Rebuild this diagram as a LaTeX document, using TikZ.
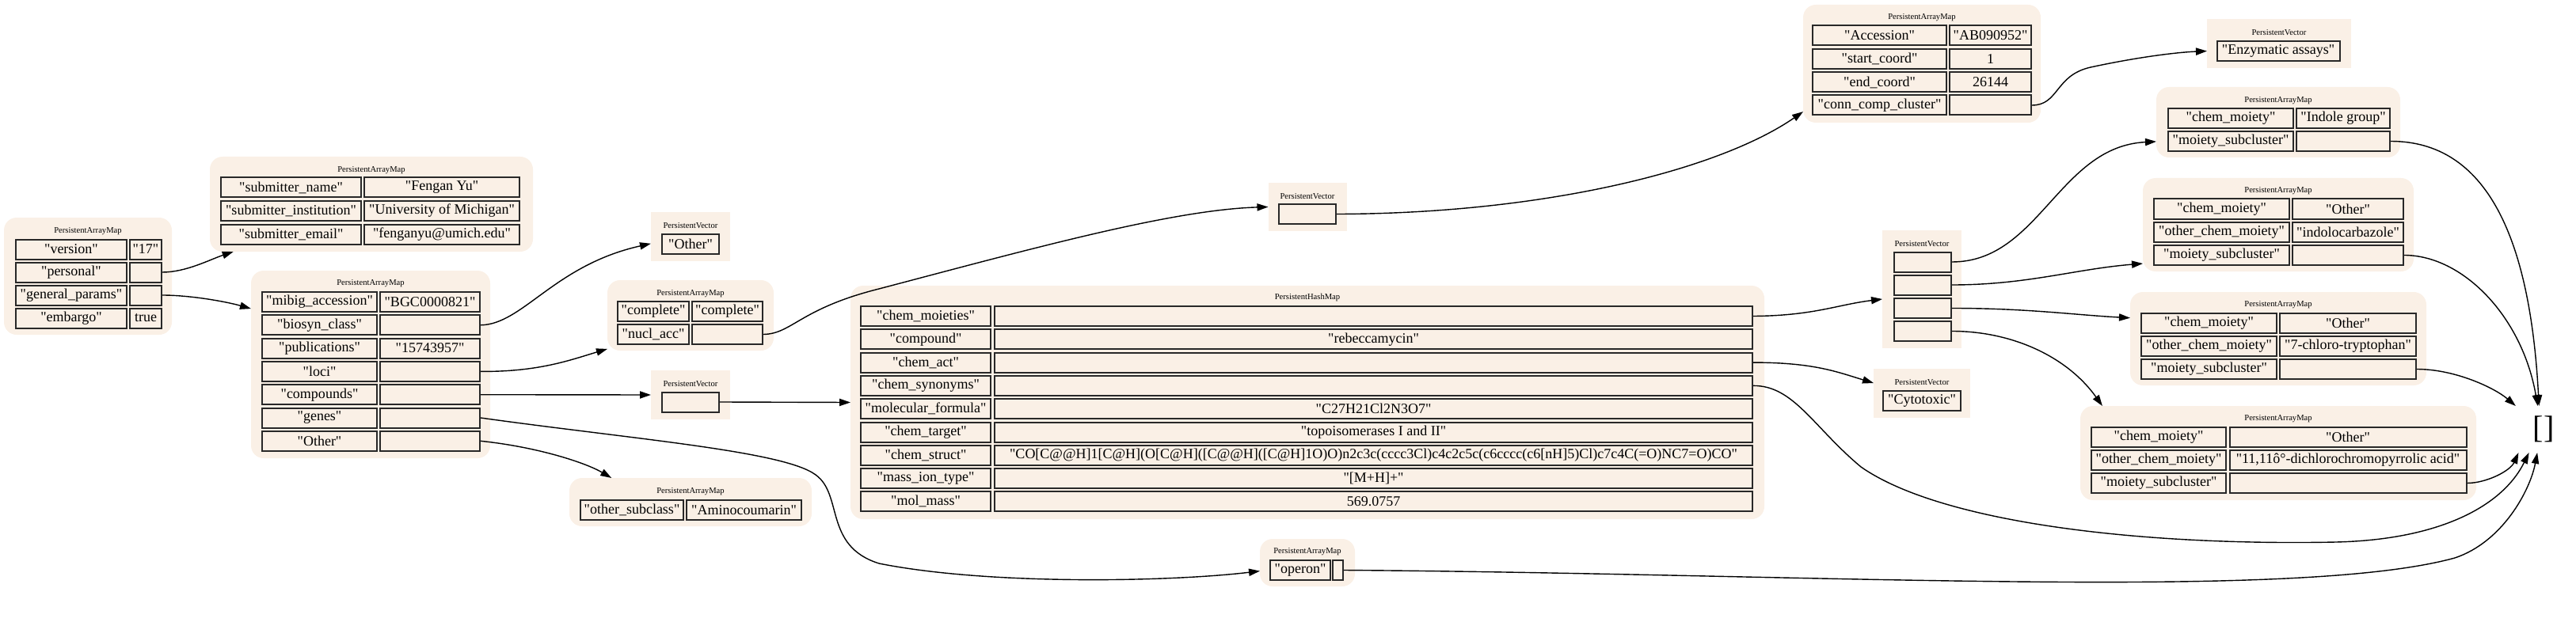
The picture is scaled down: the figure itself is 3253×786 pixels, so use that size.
\documentclass[tikz,border=0pt]{standalone}
\usepackage{fontspec}
\setmainfont{Liberation Serif}[Ligatures=TeXOff]
\usepackage{tikz}
\usetikzlibrary{arrows.meta}
\definecolor{pamfill}{RGB}{250,240,230}
\definecolor{pamline}{RGB}{40,40,40}
\newcommand\pamcellfont{\fontsize{9pt}{11pt}\selectfont}
\newcommand\pamtitlefont{\fontsize{5.3pt}{6pt}\selectfont}
\newcommand\pambigfont{\fontsize{20pt}{22pt}\selectfont}

\begin{document}
\begin{tikzpicture}[x=0.5pt,y=0.5pt,yscale=-1,
  mapbox/.style={fill=pamfill, rounded corners=8pt, inner sep=0pt, outer sep=0pt},
  vecbox/.style={fill=pamfill, inner sep=0pt, outer sep=0pt},
  cellbox/.style={draw=pamline, line width=1pt, fill=pamfill, inner sep=0pt, minimum height=12.5pt, font=\pamcellfont},
  boxtitle/.style={inner sep=0pt, font=\pamtitlefont},
  arrowline/.style={line width=0.7pt, -{Triangle[length=7pt,width=4.6pt]}}]
  \useasboundingbox (0,0) rectangle (3253,786);

  %Shape: Rounded Rectangle [root map]
  \node[mapbox, minimum width=106pt, minimum height=74pt] (rootmap) at (111,349) {};
  \draw (111,292) node[boxtitle] {PersistentArrayMap};
  \node[cellbox, minimum width=70pt] (root-version-k) at (90,315) {"version"};
  \node[cellbox, minimum width=20pt] (root-version) at (184,315) {"17"};
  \node[cellbox, minimum width=70pt] (root-personal-k) at (90,344) {"personal"};
  \node[cellbox, minimum width=20pt] (root-personal) at (184,344) {};
  \node[cellbox, minimum width=70pt] (root-general-k) at (90,373) {"general\_params"};
  \node[cellbox, minimum width=20pt] (root-general) at (184,373) {};
  \node[cellbox, minimum width=70pt] (root-embargo-k) at (90,402) {"embargo"};
  \node[cellbox, minimum width=20pt] (root-embargo) at (184,402) {true};

  %Shape: Rounded Rectangle [personal]
  \node[mapbox, minimum width=204pt, minimum height=60pt] (personalmap) at (469,258) {};
  \draw (469,215) node[boxtitle] {PersistentArrayMap};
  \node[cellbox, minimum width=88.5pt] (pers-name-k) at (367.5,237) {"submitter\_name"};
  \node[cellbox, minimum width=98pt] (pers-name) at (558,237) {"Fengan Yu"};
  \node[cellbox, minimum width=88.5pt] (pers-inst-k) at (367.5,266.5) {"submitter\_institution"};
  \node[cellbox, minimum width=98pt] (pers-inst) at (558,266.5) {"University of Michigan"};
  \node[cellbox, minimum width=88.5pt] (pers-email-k) at (367.5,296) {"submitter\_email"};
  \node[cellbox, minimum width=98pt] (pers-email) at (558,296) {"fenganyu@umich.edu"};

  %Shape: Rounded Rectangle [general params]
  \node[mapbox, minimum width=151pt, minimum height=118.5pt] (genmap) at (468,460.5) {};
  \draw (468,358) node[boxtitle] {PersistentArrayMap};
  \node[cellbox, minimum width=72.5pt] (gen-mibig-k) at (403.5,381.5) {"mibig\_accession"};
  \node[cellbox, minimum width=63pt] (gen-mibig) at (543,381.5) {"BGC0000821"};
  \node[cellbox, minimum width=72.5pt] (gen-biosyn-k) at (403.5,410.8) {"biosyn\_class"};
  \node[cellbox, minimum width=63pt] (gen-biosyn) at (543,410.8) {};
  \node[cellbox, minimum width=72.5pt] (gen-pub-k) at (403.5,440.1) {"publications"};
  \node[cellbox, minimum width=63pt] (gen-pub) at (543,440.1) {"15743957"};
  \node[cellbox, minimum width=72.5pt] (gen-loci-k) at (403.5,469.4) {"loci"};
  \node[cellbox, minimum width=63pt] (gen-loci) at (543,469.4) {};
  \node[cellbox, minimum width=72.5pt] (gen-compounds-k) at (403.5,498.7) {"compounds"};
  \node[cellbox, minimum width=63pt] (gen-compounds) at (543,498.7) {};
  \node[cellbox, minimum width=72.5pt] (gen-genes-k) at (403.5,528) {"genes"};
  \node[cellbox, minimum width=63pt] (gen-genes) at (543,528) {};
  \node[cellbox, minimum width=72.5pt] (gen-other-k) at (403.5,557.3) {"Other"};
  \node[cellbox, minimum width=63pt] (gen-other) at (543,557.3) {};

  %Shape: Rectangle [biosyn class vector]
  \node[vecbox, minimum width=50pt, minimum height=31pt] (classvec) at (872,299) {};
  \draw (872,285) node[boxtitle] {PersistentVector};
  \node[cellbox, minimum width=36pt] (classvec-a) at (872,308) {"Other"};

  %Shape: Rounded Rectangle [loci]
  \node[mapbox, minimum width=105pt, minimum height=44.5pt] (locimap) at (872,398.5) {};
  \draw (872,371) node[boxtitle] {PersistentArrayMap};
  \node[cellbox, minimum width=45pt] (loci-compl-k) at (825,393.5) {"complete"};
  \node[cellbox, minimum width=44.5pt] (loci-compl) at (918.5,393.5) {"complete"};
  \node[cellbox, minimum width=45pt] (loci-nucl-k) at (825,422.5) {"nucl\_acc"};
  \node[cellbox, minimum width=44.5pt] (loci-nucl) at (918.5,422.5) {};

  %Shape: Rectangle [compounds vector]
  \node[vecbox, minimum width=50pt, minimum height=31pt] (cmpvec) at (872,499) {};
  \draw (872,485) node[boxtitle] {PersistentVector};
  \node[cellbox, minimum width=36pt] (cmpvec-a) at (872,508) {};

  %Shape: Rounded Rectangle [other]
  \node[mapbox, minimum width=153pt, minimum height=30.5pt] (subclassmap) at (872,634.5) {};
  \draw (872,621) node[boxtitle] {PersistentArrayMap};
  \node[cellbox, minimum width=65pt] (sub-k) at (798,644.5) {"other\_subclass"};
  \node[cellbox, minimum width=72.5pt] (sub-v) at (939.5,644.5) {"Aminocoumarin"};

  %Shape: Rounded Rectangle [compound hash map]
  \node[mapbox, minimum width=577pt, minimum height=147.5pt] (hashmap) at (1651,508.5) {};
  \draw (1651,376) node[boxtitle] {PersistentHashMap};
  \node[cellbox, minimum width=82pt] (hm-moieties-k) at (1169,399.5) {"chem\_moieties"};
  \node[cellbox, minimum width=478.5pt] (hm-moieties) at (1734.5,399.5) {};
  \node[cellbox, minimum width=82pt] (hm-compound-k) at (1169,428.8) {"compound"};
  \node[cellbox, minimum width=478.5pt] (hm-compound) at (1734.5,428.8) {"rebeccamycin"};
  \node[cellbox, minimum width=82pt] (hm-act-k) at (1169,458.1) {"chem\_act"};
  \node[cellbox, minimum width=478.5pt] (hm-act) at (1734.5,458.1) {};
  \node[cellbox, minimum width=82pt] (hm-synonyms-k) at (1169,487.4) {"chem\_synonyms"};
  \node[cellbox, minimum width=478.5pt] (hm-synonyms) at (1734.5,487.4) {};
  \node[cellbox, minimum width=82pt] (hm-formula-k) at (1169,516.7) {"molecular\_formula"};
  \node[cellbox, minimum width=478.5pt] (hm-formula) at (1734.5,516.7) {"C27H21Cl2N3O7"};
  \node[cellbox, minimum width=82pt] (hm-target-k) at (1169,546) {"chem\_target"};
  \node[cellbox, minimum width=478.5pt] (hm-target) at (1734.5,546) {"topoisomerases I and II"};
  \node[cellbox, minimum width=82pt] (hm-struct-k) at (1169,575.3) {"chem\_struct"};
  \node[cellbox, minimum width=478.5pt] (hm-struct) at (1734.5,575.3) {"CO[C@@H]1[C@H](O[C@H]([C@@H]([C@H]1O)O)n2c3c(cccc3Cl)c4c2c5c(c6cccc(c6[nH]5)Cl)c7c4C(=O)NC7=O)CO"};
  \node[cellbox, minimum width=82pt] (hm-ion-k) at (1169,604.6) {"mass\_ion\_type"};
  \node[cellbox, minimum width=478.5pt] (hm-ion) at (1734.5,604.6) {"[M+H]+"};
  \node[cellbox, minimum width=82pt] (hm-mass-k) at (1169,633.9) {"mol\_mass"};
  \node[cellbox, minimum width=478.5pt] (hm-mass) at (1734.5,633.9) {569.0757};

  %Shape: Rectangle [nucl acc vector]
  \node[vecbox, minimum width=49.5pt, minimum height=30.5pt] (nuclvec) at (1651,261.5) {};
  \draw (1651,248) node[boxtitle] {PersistentVector};
  \node[cellbox, minimum width=36pt] (nuclvec-a) at (1651,270.5) {};

  %Shape: Rounded Rectangle [operon]
  \node[mapbox, minimum width=60pt, minimum height=30pt] (operonmap) at (1651,711) {};
  \draw (1651,697) node[boxtitle] {PersistentArrayMap};
  \node[cellbox, minimum width=38pt] (operon-k) at (1642,720.5) {"operon"};
  \node[cellbox, minimum width=6.5pt] (operon-v) at (1689.5,720.5) {};

  %Shape: Rounded Rectangle [accession]
  \node[mapbox, minimum width=150pt, minimum height=74.5pt] (accmap) at (2427,80.5) {};
  \draw (2427,22) node[boxtitle] {PersistentArrayMap};
  \node[cellbox, minimum width=84.5pt] (acc-acc-k) at (2373.5,45) {"Accession"};
  \node[cellbox, minimum width=51.5pt] (acc-acc) at (2513.5,45) {"AB090952"};
  \node[cellbox, minimum width=84.5pt] (acc-start-k) at (2373.5,74.5) {"start\_coord"};
  \node[cellbox, minimum width=51.5pt] (acc-start) at (2513.5,74.5) {1};
  \node[cellbox, minimum width=84.5pt] (acc-end-k) at (2373.5,104) {"end\_coord"};
  \node[cellbox, minimum width=51.5pt] (acc-end) at (2513.5,104) {26144};
  \node[cellbox, minimum width=84.5pt] (acc-conn-k) at (2373.5,133) {"conn\_comp\_cluster"};
  \node[cellbox, minimum width=51.5pt] (acc-conn) at (2513.5,133) {};

  %Shape: Rectangle [moieties vector]
  \node[vecbox, minimum width=50pt, minimum height=74.5pt] (moietyvec) at (2427,365.5) {};
  \draw (2427,308) node[boxtitle] {PersistentVector};
  \node[cellbox, minimum width=36pt] (moiv-a) at (2428,331) {};
  \node[cellbox, minimum width=36pt] (moiv-b) at (2428,360) {};
  \node[cellbox, minimum width=36pt] (moiv-c) at (2428,389.5) {};
  \node[cellbox, minimum width=36pt] (moiv-d) at (2428,418.5) {};

  %Shape: Rectangle [activity vector]
  \node[vecbox, minimum width=61pt, minimum height=31pt] (cytovec) at (2427,497) {};
  \draw (2427,483) node[boxtitle] {PersistentVector};
  \node[cellbox, minimum width=49pt] (cytovec-a) at (2427,506) {"Cytotoxic"};

  %Shape: Rectangle [evidence vector]
  \node[vecbox, minimum width=91pt, minimum height=31pt] (enzvec) at (2878,55) {};
  \draw (2878,41) node[boxtitle] {PersistentVector};
  \node[cellbox, minimum width=77.5pt] (enzvec-a) at (2877,64.5) {"Enzymatic assays"};

  %Shape: Rounded Rectangle [moiety 1]
  \node[mapbox, minimum width=154pt, minimum height=44.5pt] (indolemap) at (2877,154.5) {};
  \draw (2877,127) node[boxtitle] {PersistentArrayMap};
  \node[cellbox, minimum width=79pt] (ind-moiety-k) at (2817,149.5) {"chem\_moiety"};
  \node[cellbox, minimum width=59pt] (ind-moiety) at (2959,149.5) {"Indole group"};
  \node[cellbox, minimum width=79pt] (ind-sub-k) at (2817,178.5) {"moiety\_subcluster"};
  \node[cellbox, minimum width=59pt] (ind-sub) at (2959,178.5) {};

  %Shape: Rounded Rectangle [moiety 2]
  \node[mapbox, minimum width=171pt, minimum height=59pt] (carbmap) at (2877,284) {};
  \draw (2877,241) node[boxtitle] {PersistentArrayMap};
  \node[cellbox, minimum width=85.5pt] (carb-moiety-k) at (2805.5,264) {"chem\_moiety"};
  \node[cellbox, minimum width=70pt] (carb-moiety) at (2965,264) {"Other"};
  \node[cellbox, minimum width=85.5pt] (carb-other-k) at (2805.5,293.5) {"other\_chem\_moiety"};
  \node[cellbox, minimum width=70pt] (carb-other) at (2965,293.5) {"indolocarbazole"};
  \node[cellbox, minimum width=85.5pt] (carb-sub-k) at (2805.5,322.5) {"moiety\_subcluster"};
  \node[cellbox, minimum width=70pt] (carb-sub) at (2965,322.5) {};

  %Shape: Rounded Rectangle [moiety 3]
  \node[mapbox, minimum width=187pt, minimum height=59pt] (chloromap) at (2877,428) {};
  \draw (2877,385) node[boxtitle] {PersistentArrayMap};
  \node[cellbox, minimum width=85.5pt] (chl-moiety-k) at (2789.5,408.5) {"chem\_moiety"};
  \node[cellbox, minimum width=86pt] (chl-moiety) at (2965,408.5) {"Other"};
  \node[cellbox, minimum width=85.5pt] (chl-other-k) at (2789.5,437.5) {"other\_chem\_moiety"};
  \node[cellbox, minimum width=86pt] (chl-other) at (2965,437.5) {"7-chloro-tryptophan"};
  \node[cellbox, minimum width=85.5pt] (chl-sub-k) at (2789.5,466.5) {"moiety\_subcluster"};
  \node[cellbox, minimum width=86pt] (chl-sub) at (2965,466.5) {};

  %Shape: Rounded Rectangle [moiety 4]
  \node[mapbox, minimum width=250pt, minimum height=59.5pt] (dichlmap) at (2877,572.5) {};
  \draw (2877,529) node[boxtitle] {PersistentArrayMap};
  \node[cellbox, minimum width=85pt] (dch-moiety-k) at (2726,552) {"chem\_moiety"};
  \node[cellbox, minimum width=149.5pt] (dch-moiety) at (2965,552) {"Other"};
  \node[cellbox, minimum width=85pt] (dch-other-k) at (2726,581.5) {"other\_chem\_moiety"};
  \node[cellbox, minimum width=149.5pt] (dch-other) at (2965,581.5) {"11,11ô°-dichlorochromopyrrolic acid"};
  \node[cellbox, minimum width=85pt] (dch-sub-k) at (2726,610.5) {"moiety\_subcluster"};
  \node[cellbox, minimum width=149.5pt] (dch-sub) at (2965,610.5) {};

  % Text Node [empty list]
  \node[inner sep=0pt, outer sep=0pt, minimum width=36pt, minimum height=29.5pt, font=\pambigfont] (emptylist) at (3212,542.5) {[]};

  %Straight Lines
  \draw[arrowline] (root-personal.east) .. controls (235,344) and (265,328) .. (personalmap.199);
  \draw[arrowline] (root-general.east) .. controls (240,373) and (285,381) .. (genmap.155);
  \draw[arrowline] (gen-biosyn.east) .. controls (660,410) and (700,335) .. (classvec.190);
  \draw[arrowline] (gen-loci.east) .. controls (680,470) and (720,455) .. (locimap.202);
  \draw[arrowline] (gen-compounds.east) -- (cmpvec.west);
  \draw[arrowline] (gen-genes.east) .. controls (800,555) and (990,570) .. (1030,600) .. controls (1065,625) and (1040,690) .. (1110,712) .. controls (1250,740) and (1480,735) .. (operonmap.190);
  \draw[arrowline] (gen-other.east) .. controls (680,565) and (740,585) .. (subclassmap.163);
  \draw[arrowline] (loci-nucl.east) .. controls (1000,422) and (1010,390) .. (1110,365) .. controls (1300,315) and (1480,265) .. (nuclvec.west);
  \draw[arrowline] (cmpvec-a.east) -- (hashmap.west);
  \draw[arrowline] (nuclvec-a.east) .. controls (1950,270) and (2170,215) .. (accmap.202);
  \draw[arrowline] (acc-conn.east) .. controls (2600,133) and (2595,95) .. (2640,85) .. controls (2700,72) and (2750,66) .. (enzvec.186);
  \draw[arrowline] (hm-moieties.east) .. controls (2290,399) and (2320,385) .. (moietyvec.194);
  \draw[arrowline] (hm-act.east) .. controls (2290,458) and (2320,470) .. (cytovec.168);
  \draw[arrowline] (hm-synonyms.east) .. controls (2265,487) and (2290,540) .. (2350,590) .. controls (2450,660) and (2700,690) .. (2950,685) .. controls (3080,682) and (3160,640) .. (emptylist.238);
  \draw[arrowline] (moiv-a.east) .. controls (2575,331) and (2600,185) .. (indolemap.189);
  \draw[arrowline] (moiv-b.east) .. controls (2560,360) and (2620,340) .. (carbmap.196);
  \draw[arrowline] (moiv-c.east) .. controls (2560,389.5) and (2620,398) .. (chloromap.172);
  \draw[arrowline] (moiv-d.east) .. controls (2540,418.5) and (2610,450) .. (dichlmap.165);
  \draw[arrowline] (ind-sub.east) .. controls (3140,178.5) and (3195,300) .. (emptylist.101);
  \draw[arrowline] (carb-sub.east) .. controls (3110,322.5) and (3185,400) .. (emptylist.104);
  \draw[arrowline] (chl-sub.east) .. controls (3100,466.5) and (3150,490) .. (emptylist.140);
  \draw[arrowline] (dch-sub.east) .. controls (3140,610.5) and (3170,595) .. (emptylist.223);
  \draw[arrowline] (operon-v.east) .. controls (2300,725) and (2900,760) .. (3100,705) .. controls (3160,685) and (3195,620) .. (emptylist.255);

\end{tikzpicture}
\end{document}
